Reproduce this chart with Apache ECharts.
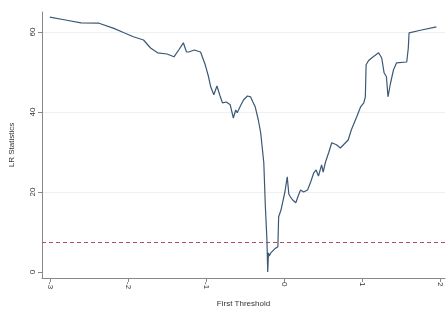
<!DOCTYPE html>
<html>
<head>
<meta charset="utf-8">
<script src="https://cdn.jsdelivr.net/npm/echarts@6/dist/echarts.min.js"></script>
<style>html,body{margin:0;padding:0;background:#fff;}#c{width:448px;height:314px;}</style>
</head>
<body>
<div id="c"></div>
<script>
const thresholds = [-3, -2.8, -2.6, -2.37, -2.18, -2.05, -1.93, -1.80, -1.71, -1.62,
  -1.50, -1.41, -1.35, -1.29, -1.25, -1.22, -1.15, -1.07, -1.01, -0.97,
  -0.94, -0.90, -0.86, -0.82, -0.79, -0.74, -0.69, -0.65, -0.62, -0.60,
  -0.56, -0.52, -0.47, -0.43, -0.40, -0.37, -0.33, -0.30, -0.26, -0.24,
  -0.22, -0.21, -0.20, -0.19, -0.17, -0.12, -0.08, -0.07, -0.04, -0.02,
  0.01, 0.04, 0.06, 0.08, 0.11, 0.15, 0.18, 0.21, 0.25, 0.30,
  0.34, 0.38, 0.41, 0.44, 0.48, 0.50, 0.53, 0.57, 0.61, 0.67,
  0.72, 0.77, 0.82, 0.86, 0.93, 0.98, 1.02, 1.04, 1.05, 1.08,
  1.12, 1.21, 1.25, 1.28, 1.31, 1.33, 1.36, 1.40, 1.44, 1.57,
  1.59, 1.60, 1.76, 1.95];
const lrStats = [63.7, 63.0, 62.3, 62.2, 60.9, 59.8, 58.8, 58.0, 56.0, 54.8,
  54.5, 53.8, 55.5, 57.3, 55.0, 55.0, 55.5, 55.0, 51.8, 49.0,
  46.3, 44.3, 46.5, 44.0, 42.3, 42.5, 41.8, 38.5, 40.5, 39.8,
  41.5, 43.0, 44.0, 43.8, 42.5, 41.3, 38.0, 34.8, 27.3, 16.3,
  8.0, 0.0, 4.8, 4.0, 4.8, 5.8, 6.3, 13.8, 15.5, 17.3,
  20.0, 23.8, 19.5, 18.8, 18.0, 17.3, 19.0, 20.5, 20.0, 20.5,
  22.5, 24.8, 25.5, 24.0, 26.8, 25.0, 27.5, 29.8, 32.3, 31.8,
  31.0, 32.0, 33.0, 35.5, 38.8, 41.3, 42.3, 43.8, 51.8, 52.8,
  53.5, 54.8, 53.5, 49.8, 48.8, 43.8, 47.0, 50.5, 52.3, 52.5,
  56.0, 59.8, 60.5, 61.3];
const criticalValue = 7.35;
const xTicks = [-3, -2, -1, 0, 1, 2];
const yTicks = [0, 20, 40, 60];

const chart = echarts.init(document.getElementById('c'), null, {renderer: 'canvas'});
const font = 'Liberation Sans, Arial, sans-serif';
chart.setOption({
  animation: false,
  backgroundColor: '#ffffff',
  grid: {left: 41, right: 3, top: 12, bottom: 36},
  xAxis: {
    type: 'value', min: -3.1, max: 2.06,
    name: 'First Threshold', nameLocation: 'middle', nameGap: 22,
    nameTextStyle: {fontFamily: font, fontSize: 8, color: '#333'},
    axisLine: {show: true, onZero: false, lineStyle: {color: '#888', width: 1}},
    axisTick: {show: true, length: 4, lineStyle: {color: '#888'}, customValues: xTicks},
    axisLabel: {customValues: xTicks, rotate: -90, fontFamily: font, fontSize: 8, color: '#333', margin: 4},
    splitLine: {show: false}
  },
  yAxis: {
    type: 'value', min: -1.5, max: 65,
    name: 'LR Statistics', nameLocation: 'middle', nameGap: 26,
    nameTextStyle: {fontFamily: font, fontSize: 8, color: '#333'},
    axisLine: {show: true, onZero: false, lineStyle: {color: '#888', width: 1}},
    axisTick: {show: true, length: 4, lineStyle: {color: '#888'}, customValues: yTicks},
    axisLabel: {customValues: yTicks, rotate: 90, fontFamily: font, fontSize: 8, color: '#333', margin: 5},
    splitLine: {show: false}
  },
  series: [
    {
      type: 'line', name: 'grid', silent: true, data: [], z: 0, zlevel: 0,
      markLine: {
        silent: true, symbol: 'none', label: {show: false}, z: 0,
        lineStyle: {color: '#eef1f4', width: 1, type: 'solid'},
        data: yTicks.filter(v => v > 0).map(v => ({yAxis: v}))
      }
    },
    {
      type: 'line', name: 'LR',
      data: thresholds.map((t, i) => [t, lrStats[i]]),
      showSymbol: false, symbol: 'none',
      lineStyle: {color: '#3b5875', width: 1.2},
      z: 10,
      markLine: {
        silent: true, symbol: 'none', label: {show: false}, z: 5,
        lineStyle: {color: '#b54a6a', width: 1, type: [4, 3]},
        data: [{yAxis: criticalValue}]
      }
    }
  ]
});
</script>
</body>
</html>
